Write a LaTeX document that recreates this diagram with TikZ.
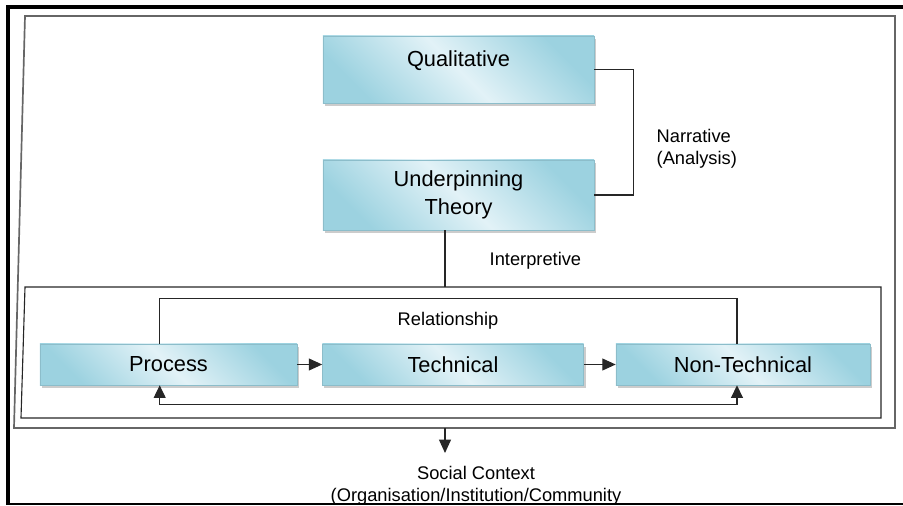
\documentclass[tikz,border=0pt]{standalone}
\usepackage{fontspec}
\setmainfont{Liberation Sans}
\usetikzlibrary{arrows.meta,shadows}
\definecolor{cajaosc}{RGB}{156,210,224}
\definecolor{cajaclara}{RGB}{226,242,247}
\begin{document}
\begin{tikzpicture}[x=0.025cm,y=-0.025cm,
    caja/.style={draw=cajaosc!90!black, top color=cajaosc, bottom color=cajaosc, middle color=cajaclara,
        shading angle=-45, drop shadow={shadow xshift=0.05cm, shadow yshift=-0.07cm, fill=black!40},
        inner sep=0pt, align=center, font=\fontsize{15.5}{20}\selectfont},
    texto/.style={inner sep=1pt, font=\fontsize{13}{15.5}\selectfont},
    linea/.style={draw=black!85, line width=0.8pt},
    flecha/.style={-{Triangle[length=9.5pt,width=8.5pt]}},
    flechas/.style={{Triangle[length=9pt,width=8.5pt]}-{Triangle[length=9pt,width=8.5pt]}}]
    \useasboundingbox (0,0) rectangle (903,506);
    % Marco exterior
    \draw[line width=3pt] (903,7) -| (8,505);
    \draw[line width=1.5pt] (8,504) -- (903,504);
    % Marco gris
    \draw[black!60, line width=1.2pt] (25,16) -- (895,16) -- (895,428) -- (14,428) -- cycle;

    % Cajas de arriba
    \node[caja, minimum width=6.775cm, minimum height=1.675cm, text height=0.75cm, text depth=0.925cm] (qual) at (458.5,69.5) {Qualitative};
    \node[caja, minimum width=6.775cm, minimum height=1.75cm] (teoria) at (458.5,195) {Underpinning\\Theory};
    \draw[linea] (qual.east) -- ++(39,0) |- (teoria.east);
    \node[texto, anchor=west, align=left] (narr) at (655,149) {Narrative\\(Analysis)};

    % Recuadro de abajo
    \draw[linea] (25,287) -- (881,287) -- (881,418) -- (21,418) -- cycle;
    \coordinate (marco) at (445,287);
    \draw[linea] (marco |- teoria.south) -- (marco);
    \node[texto, anchor=west] (interp) at (488,261) {Interpretive};

    % Cajas de abajo
    \node[caja, minimum width=6.425cm, minimum height=1.025cm] (proceso) at (168.5,364.5) {Process};
    \node[caja, minimum width=6.525cm, minimum height=1.025cm] (tecnico) at (453,364.5) {Technical};
    \node[caja, minimum width=6.35cm, minimum height=1.025cm] (notecnico) at (743,364.5) {Non-Technical};
    \draw[linea, flecha] (proceso) -- (tecnico);
    \draw[linea, flecha] (tecnico) -- (notecnico);
    \draw[linea] ([xshift=-0.22cm]proceso.north) -- ++(0,-45) -| ([xshift=-0.15cm]notecnico.north);
    \node[texto] (rel) at (448,321) {Relationship};
    \draw[linea, flechas] ([xshift=-0.22cm]proceso.south) -- ++(0,19) -| ([xshift=-0.15cm]notecnico.south);

    % Contexto social
    \coordinate (base) at (445,428);
    \node[texto, anchor=north, align=center] (social) at (476,465) {Social Context\\(Organisation/Institution/Community};
    \draw[linea, flecha, shorten >=0.3cm] (base) -- (base |- social.north);
\end{tikzpicture}
\end{document}
